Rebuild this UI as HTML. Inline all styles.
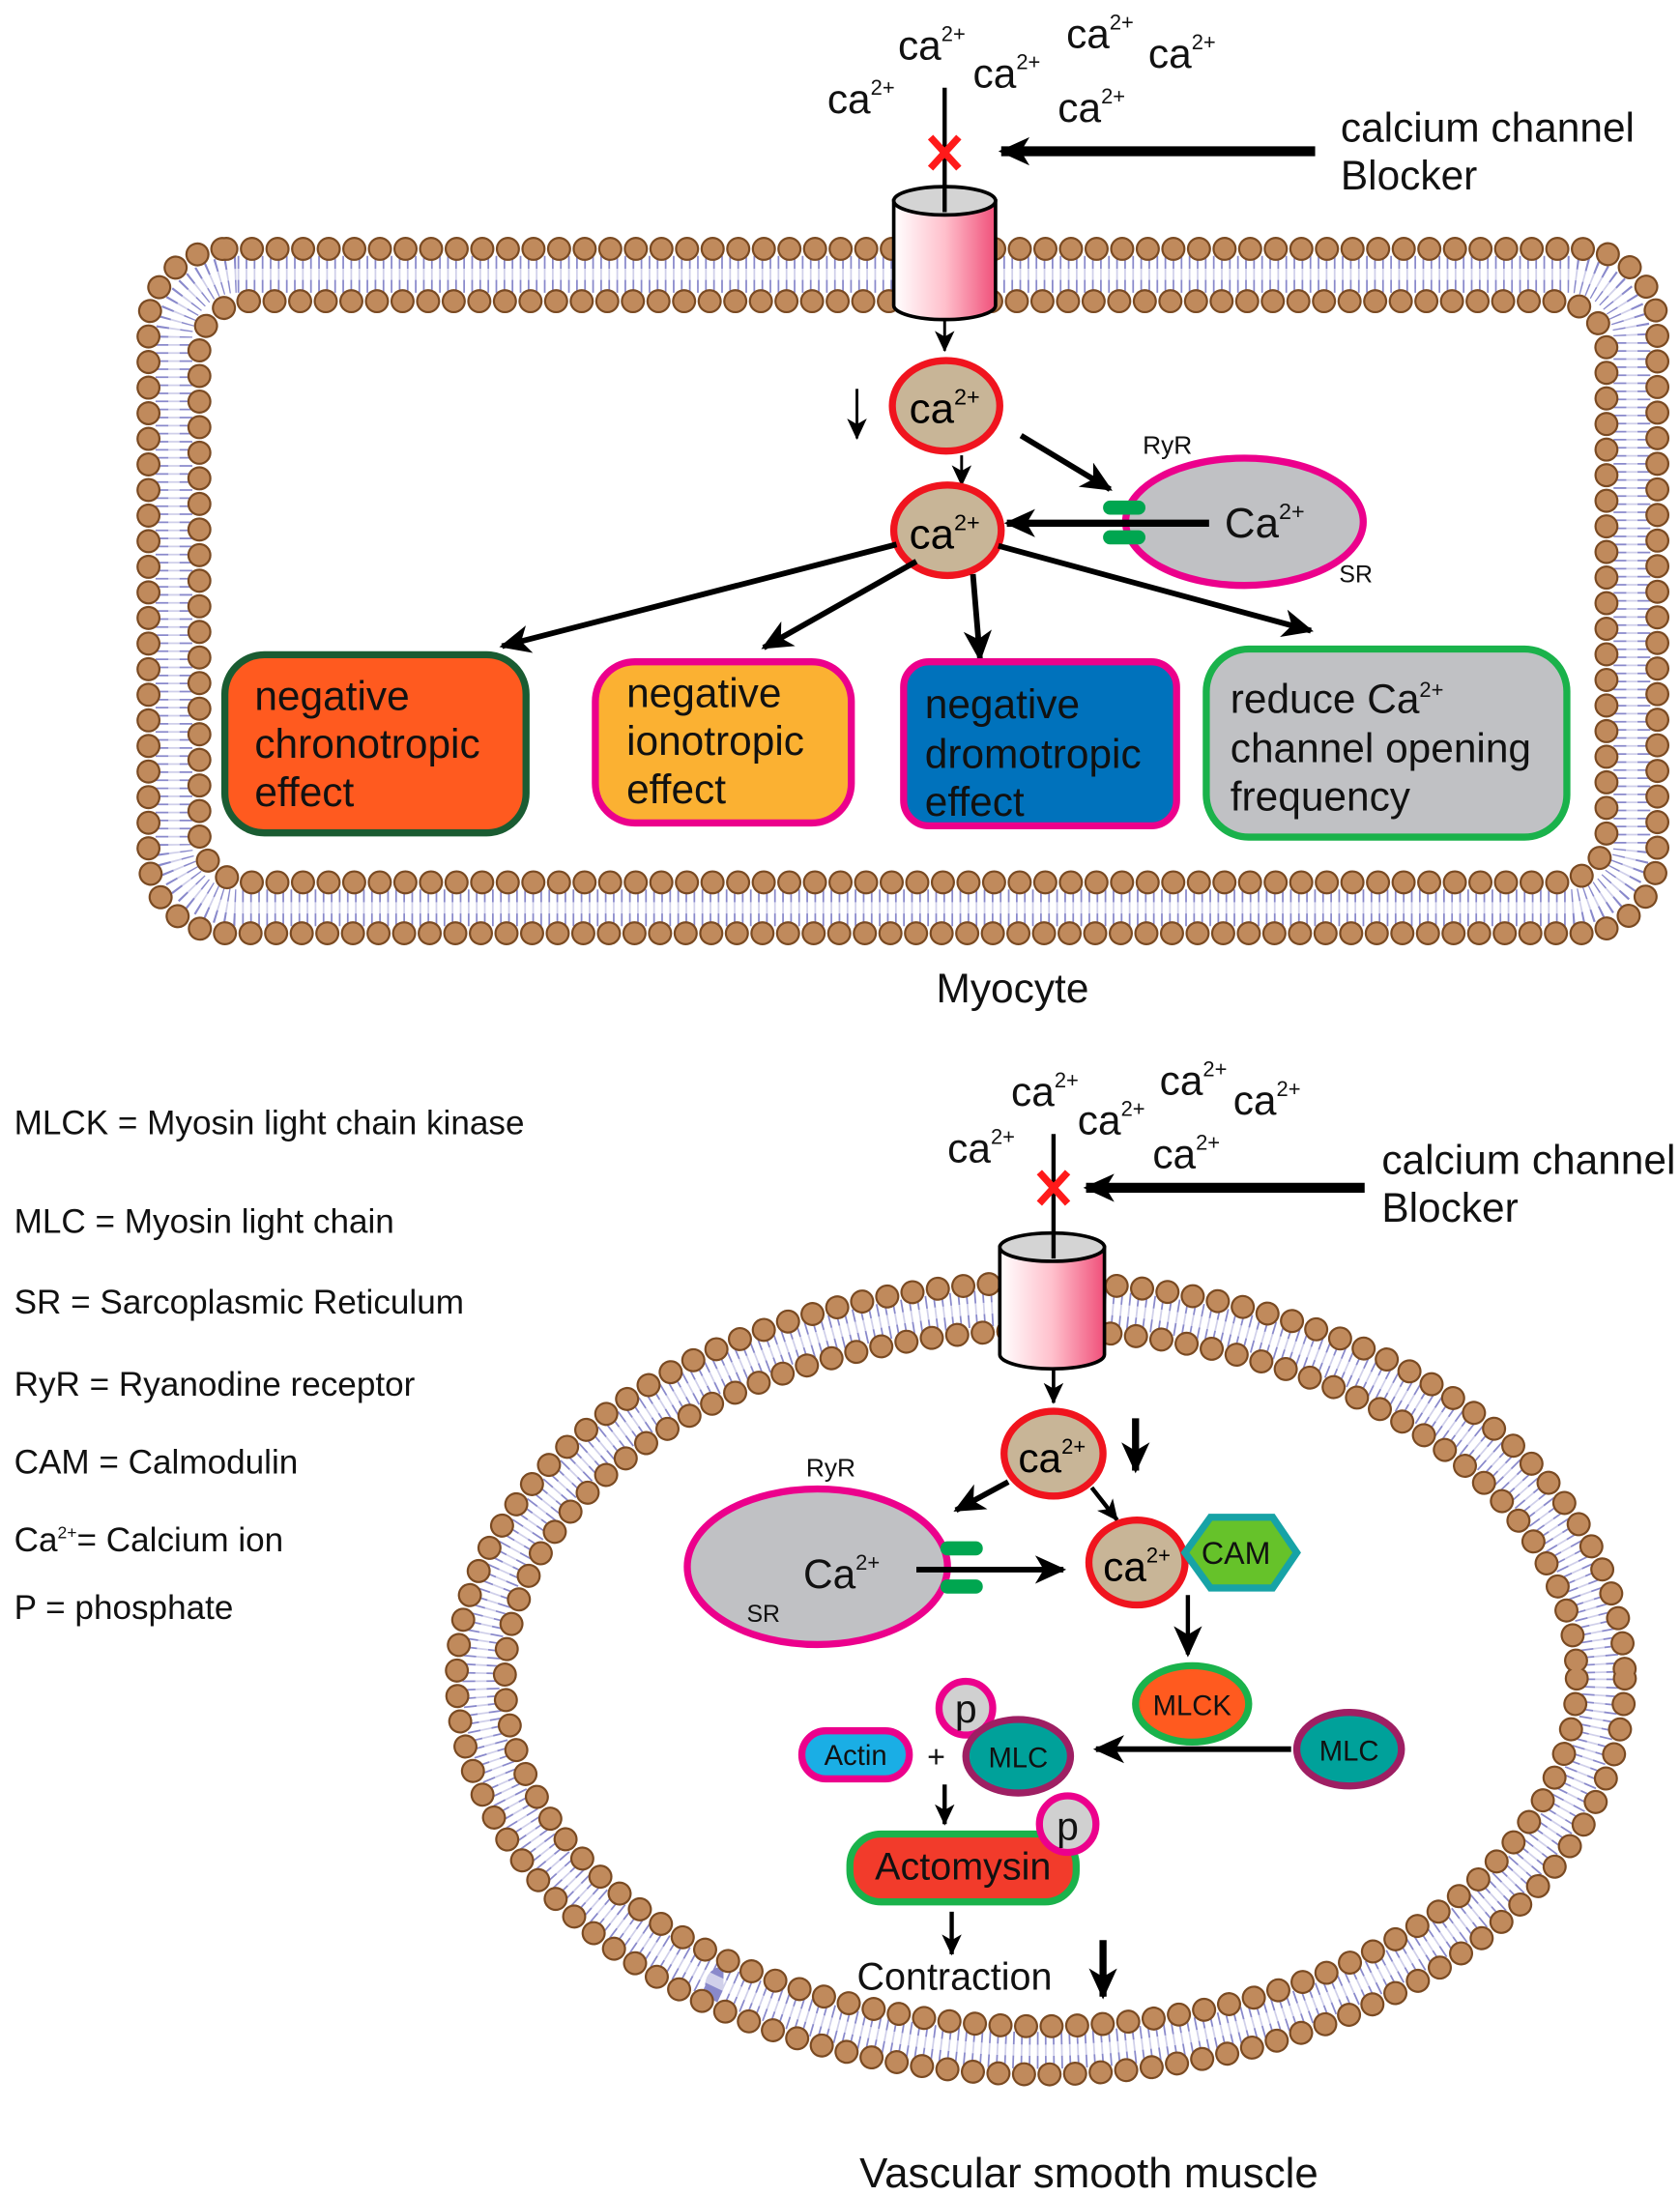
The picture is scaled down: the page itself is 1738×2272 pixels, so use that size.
<!DOCTYPE html>
<html><head><meta charset="utf-8"><style>html,body{margin:0;padding:0;background:#fff}svg{display:block}</style></head>
<body>
<svg width="1738" height="2272" viewBox="0 0 1188 1553" xmlns="http://www.w3.org/2000/svg" font-family="Liberation Sans, DejaVu Sans, sans-serif">
<defs>
<marker id="ah" markerUnits="userSpaceOnUse" markerWidth="24" markerHeight="20" refX="20" refY="10" orient="auto"><path d="M0,0 L22,10 L0,20 L6,10 Z" fill="#000"/></marker>
<marker id="ahs" markerUnits="userSpaceOnUse" markerWidth="16" markerHeight="14" refX="14" refY="7" orient="auto"><path d="M0,0 L15,7 L0,14 L4,7 Z" fill="#000"/></marker>
<linearGradient id="cyl" x1="0" x2="1" y1="0" y2="0"><stop offset="0" stop-color="#fff"/><stop offset="0.5" stop-color="#ffc0cc"/><stop offset="1" stop-color="#f0507a"/></linearGradient>
</defs>

<!-- TOP MEMBRANE -->
<rect x="123" y="194" width="1031" height="448" rx="45" fill="none" stroke="#3a3aa8" stroke-opacity="0.6" stroke-width="26" stroke-dasharray="1.2 4.5"/>
<rect x="123" y="194" width="1031" height="448" rx="45" fill="none" stroke="#fff" stroke-width="8" stroke-opacity="0.6"/>
<rect x="105" y="176" width="1067" height="484" rx="55" fill="none" stroke="#7a4a22" stroke-width="17" stroke-linecap="round" stroke-dasharray="0.1 18"/>
<rect x="105" y="176" width="1067" height="484" rx="55" fill="none" stroke="#c08a5c" stroke-width="14" stroke-linecap="round" stroke-dasharray="0.1 18"/>
<rect x="141" y="213" width="995" height="411" rx="35" fill="none" stroke="#7a4a22" stroke-width="17" stroke-linecap="round" stroke-dasharray="0.1 18"/>
<rect x="141" y="213" width="995" height="411" rx="35" fill="none" stroke="#c08a5c" stroke-width="14" stroke-linecap="round" stroke-dasharray="0.1 18"/>

<g font-size="29" fill="#111">
<text x="635" y="42">ca<tspan font-size="15" dy="-13">2+</tspan></text>
<text x="754" y="34">ca<tspan font-size="15" dy="-13">2+</tspan></text>
<text x="688" y="62">ca<tspan font-size="15" dy="-13">2+</tspan></text>
<text x="812" y="48">ca<tspan font-size="15" dy="-13">2+</tspan></text>
<text x="585" y="80">ca<tspan font-size="15" dy="-13">2+</tspan></text>
<text x="748" y="86">ca<tspan font-size="15" dy="-13">2+</tspan></text>
</g>
<line x1="668" y1="62" x2="668" y2="150" stroke="#000" stroke-width="3"/>
<path d="M658,97 L678,119 M678,97 L658,119" stroke="#ff1a1a" stroke-width="5"/>
<line x1="930" y1="107" x2="708" y2="107" stroke="#000" stroke-width="7" marker-end="url(#ah)"/>
<text x="948" y="100" font-size="29" fill="#111">calcium channel</text>
<text x="948" y="134" font-size="29" fill="#111">Blocker</text>
<path d="M632,142 L632,216 A36,10 0 0 0 704,216 L704,142 Z" fill="url(#cyl)" stroke="#000" stroke-width="2.5"/>
<ellipse cx="668" cy="142" rx="36" ry="10" fill="#d4d4d4" stroke="#000" stroke-width="2.5"/>
<line x1="668" y1="132" x2="668" y2="150" stroke="#000" stroke-width="3"/>
<line x1="668" y1="226" x2="668" y2="248" stroke="#000" stroke-width="2" marker-end="url(#ahs)"/>

<ellipse cx="669" cy="287" rx="38" ry="32" fill="#c8b597" stroke="#f0141e" stroke-width="5"/>
<text x="643" y="299" font-size="30">ca<tspan font-size="16" dy="-13">2+</tspan></text>
<line x1="606" y1="275" x2="606" y2="310" stroke="#000" stroke-width="2" marker-end="url(#ahs)"/>
<line x1="680" y1="322" x2="680" y2="343" stroke="#000" stroke-width="2" marker-end="url(#ahs)"/>
<ellipse cx="670" cy="375" rx="38" ry="32" fill="#c8b597" stroke="#f0141e" stroke-width="5"/>
<text x="643" y="388" font-size="30">ca<tspan font-size="16" dy="-13">2+</tspan></text>
<line x1="722" y1="308" x2="785" y2="346" stroke="#000" stroke-width="4" marker-end="url(#ah)"/>
<ellipse cx="880" cy="369" rx="84" ry="45" fill="#c0c1c4" stroke="#ec008c" stroke-width="5"/>
<text x="866" y="380" font-size="30" fill="#111">Ca<tspan font-size="16" dy="-13">2+</tspan></text>
<text x="808" y="321" font-size="18" fill="#111">RyR</text>
<text x="947" y="412" font-size="17" fill="#111">SR</text>
<rect x="780" y="354" width="30" height="10" rx="5" fill="#00a650"/>
<rect x="780" y="375" width="30" height="10" rx="5" fill="#00a650"/>
<line x1="855" y1="370" x2="712" y2="370" stroke="#000" stroke-width="5" marker-end="url(#ah)"/>

<line x1="634" y1="385" x2="355" y2="457" stroke="#000" stroke-width="4" marker-end="url(#ah)"/>
<line x1="648" y1="397" x2="540" y2="458" stroke="#000" stroke-width="4" marker-end="url(#ah)"/>
<line x1="688" y1="406" x2="693" y2="466" stroke="#000" stroke-width="4" marker-end="url(#ah)"/>
<line x1="706" y1="386" x2="927" y2="446" stroke="#000" stroke-width="4" marker-end="url(#ah)"/>

<rect x="159" y="463" width="213" height="126" rx="28" fill="#ff5a1f" stroke="#1a5c32" stroke-width="5"/>
<g font-size="29" fill="#111">
<text x="180" y="502">negative</text><text x="180" y="536">chronotropic</text><text x="180" y="570">effect</text>
</g>
<rect x="421" y="468" width="181" height="114" rx="28" fill="#fbb132" stroke="#ec008c" stroke-width="5"/>
<g font-size="29" fill="#111">
<text x="443" y="500">negative</text><text x="443" y="534">ionotropic</text><text x="443" y="568">effect</text>
</g>
<rect x="639" y="468" width="193" height="116" rx="18" fill="#0072bc" stroke="#ec008c" stroke-width="5"/>
<g font-size="29" fill="#111">
<text x="654" y="508">negative</text><text x="654" y="543">dromotropic</text><text x="654" y="577">effect</text>
</g>
<rect x="853" y="459" width="255" height="133" rx="30" fill="#c0c1c4" stroke="#1ab24b" stroke-width="5"/>
<g font-size="29" fill="#111">
<text x="870" y="504">reduce Ca<tspan font-size="15" dy="-11">2+</tspan></text><text x="870" y="539">channel opening</text><text x="870" y="573">frequency</text>
</g>
<text x="716" y="709" font-size="29" fill="#111" text-anchor="middle">Myocyte</text>

<g font-size="24" fill="#111">
<text x="10" y="802">MLCK = Myosin light chain kinase</text>
<text x="10" y="872">MLC = Myosin light chain</text>
<text x="10" y="929">SR = Sarcoplasmic Reticulum</text>
<text x="10" y="987">RyR = Ryanodine receptor</text>
<text x="10" y="1042">CAM = Calmodulin</text>
<text x="10" y="1097">Ca<tspan font-size="12" dy="-9">2+</tspan><tspan dy="9">= Calcium ion</tspan></text>
<text x="10" y="1145">P = phosphate</text>
</g>

<!-- BOTTOM MEMBRANE -->
<ellipse cx="736" cy="1187" rx="396" ry="263" fill="none" stroke="#3a3aa8" stroke-opacity="0.6" stroke-width="26" stroke-dasharray="1.2 4.5"/>
<ellipse cx="736" cy="1187" rx="396" ry="263" fill="none" stroke="#fff" stroke-width="8" stroke-opacity="0.6"/>
<ellipse cx="736" cy="1187" rx="413" ry="280" fill="none" stroke="#7a4a22" stroke-width="17" stroke-linecap="round" stroke-dasharray="0.1 18"/>
<ellipse cx="736" cy="1187" rx="413" ry="280" fill="none" stroke="#c08a5c" stroke-width="14" stroke-linecap="round" stroke-dasharray="0.1 18"/>
<ellipse cx="736" cy="1187" rx="379" ry="246" fill="none" stroke="#7a4a22" stroke-width="17" stroke-linecap="round" stroke-dasharray="0.1 18"/>
<ellipse cx="736" cy="1187" rx="379" ry="246" fill="none" stroke="#c08a5c" stroke-width="14" stroke-linecap="round" stroke-dasharray="0.1 18"/>

<g font-size="29" fill="#111">
<text x="715" y="782">ca<tspan font-size="15" dy="-13">2+</tspan></text>
<text x="820" y="774">ca<tspan font-size="15" dy="-13">2+</tspan></text>
<text x="762" y="802">ca<tspan font-size="15" dy="-13">2+</tspan></text>
<text x="872" y="788">ca<tspan font-size="15" dy="-13">2+</tspan></text>
<text x="670" y="822">ca<tspan font-size="15" dy="-13">2+</tspan></text>
<text x="815" y="826">ca<tspan font-size="15" dy="-13">2+</tspan></text>
</g>
<line x1="745" y1="802" x2="745" y2="890" stroke="#000" stroke-width="3"/>
<path d="M735,829 L755,851 M755,829 L735,851" stroke="#ff1a1a" stroke-width="5"/>
<line x1="965" y1="840" x2="768" y2="840" stroke="#000" stroke-width="7" marker-end="url(#ah)"/>
<text x="977" y="830" font-size="29" fill="#111">calcium channel</text>
<text x="977" y="864" font-size="29" fill="#111">Blocker</text>
<path d="M707,882 L707,958 A37,10 0 0 0 781,958 L781,882 Z" fill="url(#cyl)" stroke="#000" stroke-width="2.5"/>
<ellipse cx="744" cy="882" rx="37" ry="10" fill="#d4d4d4" stroke="#000" stroke-width="2.5"/>
<line x1="745" y1="872" x2="745" y2="890" stroke="#000" stroke-width="3"/>
<line x1="745" y1="968" x2="745" y2="992" stroke="#000" stroke-width="2.5" marker-end="url(#ahs)"/>

<ellipse cx="745" cy="1028" rx="35" ry="30" fill="#c8b597" stroke="#f0141e" stroke-width="5"/>
<text x="720" y="1041" font-size="29">ca<tspan font-size="15" dy="-13">2+</tspan></text>
<line x1="803" y1="1003" x2="803" y2="1040" stroke="#000" stroke-width="5" marker-end="url(#ah)"/>
<line x1="713" y1="1048" x2="676" y2="1068" stroke="#000" stroke-width="4" marker-end="url(#ah)"/>
<line x1="772" y1="1052" x2="790" y2="1075" stroke="#000" stroke-width="3" marker-end="url(#ahs)"/>

<ellipse cx="578" cy="1108" rx="92" ry="55" fill="#c0c1c4" stroke="#ec008c" stroke-width="5"/>
<text x="568" y="1123" font-size="29" fill="#111">Ca<tspan font-size="15" dy="-13">2+</tspan></text>
<text x="570" y="1044" font-size="18" fill="#111">RyR</text>
<text x="528" y="1147" font-size="17" fill="#111">SR</text>
<rect x="665" y="1090" width="30" height="10" rx="5" fill="#00a650"/>
<rect x="665" y="1117" width="30" height="10" rx="5" fill="#00a650"/>
<line x1="648" y1="1110" x2="752" y2="1110" stroke="#000" stroke-width="4" marker-end="url(#ah)"/>

<ellipse cx="804" cy="1105" rx="34" ry="30" fill="#c8b597" stroke="#f0141e" stroke-width="5"/>
<polygon points="838,1098 856,1073 900,1073 917,1098 900,1123 856,1123" fill="#66c22a" stroke="#17a3a6" stroke-width="5"/>
<text x="780" y="1118" font-size="29">ca<tspan font-size="15" dy="-13">2+</tspan></text>
<text x="874" y="1106" font-size="22" fill="#111" text-anchor="middle">CAM</text>
<line x1="840" y1="1128" x2="840" y2="1170" stroke="#000" stroke-width="3" marker-end="url(#ah)"/>

<ellipse cx="843" cy="1205" rx="40" ry="27" fill="#ff5a1f" stroke="#1ab24b" stroke-width="5"/>
<text x="843" y="1213" font-size="20" fill="#111" text-anchor="middle">MLCK</text>
<ellipse cx="954" cy="1237" rx="37" ry="26" fill="#00a19a" stroke="#9e1f63" stroke-width="5"/>
<text x="954" y="1245" font-size="20" fill="#111" text-anchor="middle">MLC</text>
<line x1="913" y1="1237" x2="775" y2="1237" stroke="#000" stroke-width="4" marker-end="url(#ah)"/>
<circle cx="683" cy="1208" r="19" fill="#d0d0d0" stroke="#ec008c" stroke-width="5"/>
<text x="683" y="1218" font-size="28" fill="#111" text-anchor="middle">p</text>
<ellipse cx="720" cy="1242" rx="37" ry="26" fill="#00a19a" stroke="#9e1f63" stroke-width="5"/>
<text x="720" y="1250" font-size="20" fill="#111" text-anchor="middle">MLC</text>
<rect x="567" y="1224" width="76" height="34" rx="17" fill="#1aaee5" stroke="#ec008c" stroke-width="5"/>
<text x="605" y="1248" font-size="20" fill="#111" text-anchor="middle">Actin</text>
<text x="662" y="1250" font-size="22" fill="#111" text-anchor="middle">+</text>
<line x1="668" y1="1262" x2="668" y2="1290" stroke="#000" stroke-width="3" marker-end="url(#ahs)"/>
<rect x="601" y="1297" width="160" height="48" rx="22" fill="#f23b2b" stroke="#1ab24b" stroke-width="5"/>
<text x="681" y="1329" font-size="27" fill="#111" text-anchor="middle">Actomysin</text>
<circle cx="755" cy="1290" r="20" fill="#d0d0d0" stroke="#ec008c" stroke-width="5"/>
<text x="755" y="1301" font-size="28" fill="#111" text-anchor="middle">p</text>
<line x1="673" y1="1352" x2="673" y2="1382" stroke="#000" stroke-width="3" marker-end="url(#ahs)"/>
<text x="675" y="1407" font-size="27" fill="#111" text-anchor="middle">Contraction</text>
<line x1="780" y1="1372" x2="780" y2="1412" stroke="#000" stroke-width="5" marker-end="url(#ah)"/>
<text x="770" y="1547" font-size="30" fill="#111" text-anchor="middle">Vascular smooth muscle</text>
</svg>
</body></html>
